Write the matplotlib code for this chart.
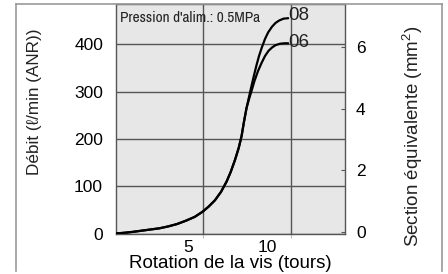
import matplotlib
matplotlib.use("Agg")
import matplotlib.pyplot as plt
import matplotlib.transforms as mtransforms
from matplotlib import font_manager
from matplotlib.lines import Line2D

#==============================================================================
# data
x_common = [0.0, 0.5, 1.0, 1.5, 2.0, 2.5, 3.0, 3.5, 4.0, 4.5, 4.95, 5.3, 5.65,
            6.0, 6.32, 6.55, 6.79, 7.0, 7.17, 7.3, 7.45]
y_common = [0, 1.5, 3.5, 6, 8.5, 11, 15, 20, 27, 35, 46, 57, 70, 88, 110, 130,
            155, 180, 206, 235, 265]
x_08 = [7.6, 7.74, 7.88, 8.02, 8.16, 8.31, 8.5, 8.68, 8.9, 9.1, 9.3, 9.55, 9.82]
y_08 = [290, 313, 335, 356, 375, 392, 411, 425, 437, 445, 450, 454, 455]
x_06 = [7.6, 7.75, 7.9, 8.1, 8.3, 8.5, 8.7, 8.9, 9.1, 9.35, 9.6, 9.82]
y_06 = [285, 303, 322, 343, 360, 375, 386, 393, 398, 401, 402, 402]
curve_names = ["08", "06"]
x_ticks = [5, 10]
x_tick_shift = [-15, -24]   # labels sit left of their grid lines (px)
y_ticks = [0, 100, 200, 300, 400]
y2_ticks = [0, 2, 4, 6]
note = "Pression d'alim.: 0.5MPa"

#==============================================================================
names = sorted({f.name for f in font_manager.fontManager.ttflist})
cond = [n for n in names if "Narrow" in n or "Condensed" in n]
if cond:
    narrow_font, note_size = [cond[0]], 11
else:
    narrow_font, note_size = ["Liberation Sans"], 9.4
main_font = ["Liberation Sans", "DejaVu Sans"]
plt.rcParams["font.family"] = main_font
plt.rcParams["mathtext.fontset"] = "custom"
plt.rcParams["mathtext.rm"] = "Liberation Sans"

W, H = 448, 274
fig = plt.figure(figsize=(W / 100, H / 100), dpi=100)
L, R, T, B = 115.5, 345, 4, 233.5
ax = fig.add_axes([L / W, 1 - B / H, (R - L) / W, (B - T) / H])
ax.set_facecolor("#e7e7e7")

x08 = x_common + x_08
y08 = y_common + y_08
x06 = x_common + x_06
y06 = y_common + y_06
ax.plot(x08, y08, color="black", lw=1.6, solid_capstyle="round", zorder=3)
ax.plot(x06, y06, color="black", lw=1.6, solid_capstyle="round", zorder=3)
ax.text(x08[-1] - 0.02, y08[-1] + 5, curve_names[0], fontsize=13.5, ha="left", va="center", color="#222222")
ax.text(x06[-1] - 0.02, y06[-1] + 1, curve_names[1], fontsize=13.5, ha="left", va="center", color="#222222")

ax.set_xlim(0, 13.05)
ax.set_ylim(0, 485)
ax.set_xticks(x_ticks)
ax.set_xticklabels([str(v) for v in x_ticks])
ax.set_yticks(y_ticks)
ax.grid(True, color="#555555", lw=1.0)
ax.set_axisbelow(True)
for s in ax.spines.values():
    s.set_color("#555555")
    s.set_linewidth(1.0)
ax.tick_params(axis="x", labelsize=12.5, length=3, color="#bbbbbb", pad=2)
ax.tick_params(axis="y", labelsize=12.5, length=0, pad=9)
for lab, dx in zip(ax.get_xticklabels(), x_tick_shift):
    lab.set_transform(lab.get_transform() + mtransforms.ScaledTranslation(dx / 100, 0, fig.dpi_scale_trans))

ax.set_xlabel("Rotation de la vis (tours)", fontsize=13.5, labelpad=0)

ax2 = ax.twinx()
ax2.set_ylim(-0.05, 7.40)
ax2.set_yticks(y2_ticks)
ax2.tick_params(axis="y", labelsize=12.5, direction="in", length=3, color="#555555", pad=8)
for s in ax2.spines.values():
    s.set_visible(False)

ax.text(0.02, 0.939, note, transform=ax.transAxes, fontsize=note_size, family=narrow_font,
        ha="left", va="center", color="#222222")

fig.text(35 / W, 1 - 102 / H, "Débit (ℓ/min (ANR))", rotation=90, fontsize=12.3,
         ha="center", va="center", color="#222222")
fig.text(413 / W, 1 - 136 / H, "Section équivalente (mm$^{2}$)", rotation=90, fontsize=13.5,
         ha="center", va="center", color="#222222")

# outer frame of the figure
frame = "#999999"
fig.add_artist(Line2D([16 / W, 16 / W], [0.01, 1 - 4 / H], color=frame, lw=1.2))
fig.add_artist(Line2D([16 / W, 442 / W], [1 - 4 / H, 1 - 4 / H], color=frame, lw=1.2))
fig.add_artist(Line2D([442 / W, 442 / W], [0.01, 1 - 4 / H], color=frame, lw=1.2))

fig.savefig("out.png", dpi=100)
